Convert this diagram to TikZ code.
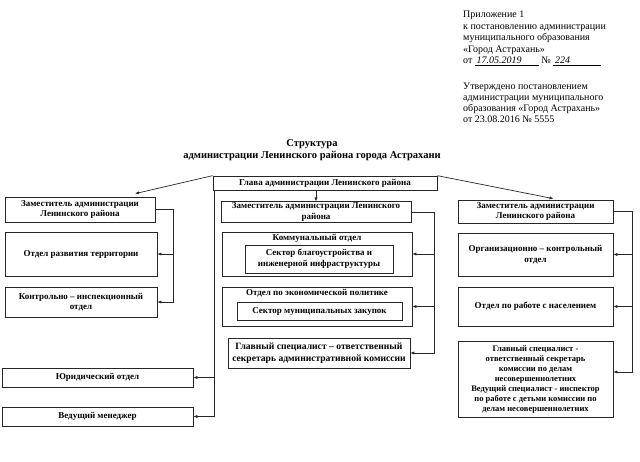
\documentclass[tikz,border=0pt]{standalone}
\usepackage{fontspec}
\setmainfont{Liberation Serif}
\usetikzlibrary{calc, positioning, arrows.meta}

\tikzset{
  box/.style={draw=black!85, line width=0.7pt, align=center, inner sep=1pt,
    font=\fontsize{9}{10.5}\selectfont\bfseries},
  boxtext/.style={align=center, inner sep=0pt, font=\fontsize{9}{10.5}\selectfont\bfseries},
  wire/.style={draw=black!85, line width=0.7pt},
  lnk/.style={wire, -{Latex[length=4pt,width=3.2pt]}},
}

\begin{document}
\begin{tikzpicture}[x=1pt, y=-1pt]
        \useasboundingbox (0,0) rectangle (640,462);
        % header text
        \node[anchor=north west, align=left, inner sep=0pt, font=\fontsize{10}{11.5}\selectfont] (appx) at (463,11)
            {Приложение 1\\к постановлению администрации\\муниципального образования\\«Город Астрахань»\\
             от \underline{\makebox[64pt][l]{\,\textit{17.05.2019}}} № \underline{\makebox[48pt][l]{\,\textit{224}}}};
        \node[anchor=north west, align=left, inner sep=0pt, font=\fontsize{10}{11}\selectfont] (appr) at (463,83)
            {Утверждено постановлением\\администрации муниципального\\образования «Город Астрахань»\\от 23.08.2016 № 5555};
        \node[align=center, font=\fontsize{10.5}{11.5}\selectfont\bfseries] (title) at (312,150)
            {Структура\\администрации Ленинского района города Астрахани};
        % head
        \node[box, minimum width=224pt, minimum height=14pt] (glava) at (325,183) {Глава администрации Ленинского района};
        % left column
        \node[box, minimum width=150pt, minimum height=25pt] (zamL) at (80,209.5) {Заместитель администрации\\Ленинского района};
        \node[box, minimum width=152pt, minimum height=44pt] (razv) at (81,254) {Отдел развития территории};
        \node[box, minimum width=152pt, minimum height=30pt] (kontr) at (81,302) {Контрольно -- инспекционный\\отдел};
        \node[box, minimum width=191pt, minimum height=19pt] (yur) at (97.5,377.5) {Юридический отдел};
        \node[box, minimum width=191pt, minimum height=19pt] (ved) at (97.5,416.5) {Ведущий менеджер};
        % middle column
        \node[box, minimum width=190pt, minimum height=20pt] (zamM) at (316,212) {Заместитель администрации Ленинского\\района};
        \node[box, minimum width=190pt, minimum height=44pt] (komm) at (317,254) {};
        \node[boxtext] (kommlbl) at (317,238.5) {Коммунальный отдел};
        \node[box, minimum width=148pt, minimum height=28pt] (blag) at (319,259) {Сектор благоустройства и\\инженерной инфраструктуры};
        \node[box, minimum width=190pt, minimum height=39pt] (econ) at (317,306.5) {};
        \node[boxtext] (econlbl) at (317,293.5) {Отдел по экономической политике};
        \node[box, minimum width=165pt, minimum height=18pt] (zak) at (319.5,311) {Сектор муниципальных закупок};
        \node[box, minimum width=182pt, minimum height=30pt, font=\fontsize{9.6}{11.5}\selectfont\bfseries] (glspM) at (319,353)
            {Главный специалист -- ответственный\\секретарь административной комиссии};
        % right column
        \node[box, minimum width=155pt, minimum height=23pt] (zamR) at (535.5,211.5) {Заместитель администрации\\Ленинского района};
        \node[box, minimum width=155pt, minimum height=43pt] (org) at (535.5,254.5) {Организационно -- контрольный\\отдел};
        \node[box, minimum width=155pt, minimum height=39pt] (rab) at (535.5,306.5) {Отдел по работе с населением};
        \node[box, minimum width=155pt, minimum height=76pt, font=\fontsize{8.5}{10}\selectfont\bfseries] (glspR) at (535.5,379)
            {Главный специалист -\\ответственный секретарь\\комиссии по делам\\несовершеннолетних\\Ведущий специалист - инспектор\\по работе с детьми комиссии по\\делам несовершеннолетних};
        % links from the head
        \draw[lnk] (glava.north west) -- ($(zamL.north)+(55,-3)$);
        \draw[lnk] (glava.north east) -- ($(zamR.north)+(18,-1)$);
        \draw[lnk] (zamM.north |- glava.south) -- (zamM.north);
        \coordinate (lv) at ($(glava.south west)+(2,0)$);
        \draw[lnk] (lv) |- (ved.east);
        \draw[lnk] (lv |- yur.east) -- (yur.east);
        % brackets
        \draw[wire] (zamL.east) -- ++(18,0) coordinate (lb);
        \draw[lnk] (lb) |- (kontr.east);
        \draw[lnk] (lb |- razv.east) -- (razv.east);
        \draw[wire] (zamM.east) -- ++(23,0) coordinate (mb);
        \draw[lnk] (mb) |- (glspM.east);
        \draw[lnk] (mb |- komm.east) -- (komm.east);
        \draw[lnk] (mb |- econ.east) -- (econ.east);
        \draw[wire] (zamR.east) -- ++(19,0) coordinate (rb);
        \draw[lnk] (rb) |- ($(glspR.east)+(0,-7)$);
        \draw[lnk] (rb |- org.east) -- (org.east);
        \draw[lnk] (rb |- rab.east) -- (rab.east);
\end{tikzpicture}
\end{document}
